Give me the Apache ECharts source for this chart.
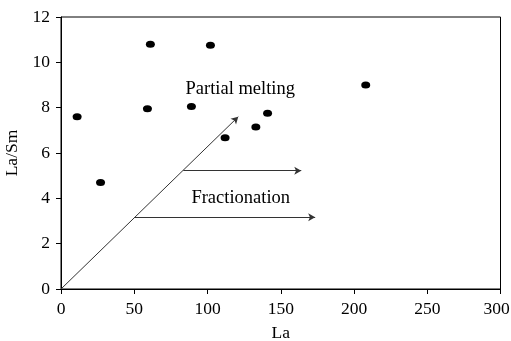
<!DOCTYPE html>
<html>
<head>
<meta charset="utf-8">
<script src="https://cdn.jsdelivr.net/npm/echarts@6/dist/echarts.min.js"></script>
<style>
  html, body { margin: 0; padding: 0; background: #fff; }
  #chart { width: 511px; height: 341px; }
</style>
</head>
<body>
<div id="chart"></div>
<script>
// Sample values: La (ppm) against La/Sm ratio
const laValues   = [11, 27, 61, 102, 59, 89, 112, 133, 141, 208];
const laSmValues = [7.6, 4.7, 10.8, 10.75, 7.95, 8.05, 6.67, 7.15, 7.75, 9.0];

// Axis ranges and tick spacing
const xRange = [0, 300], xStep = 50;
const yRange = [0, 12],  yStep = 2;

// Trend arrows in data coordinates: [start, end]
const meltingArrow = [[0, 0], [121, 7.6]];
const fractionationArrows = [
  [[83.5, 5.22], [164, 5.22]],
  [[50.2, 3.16], [173.5, 3.16]]
];

// Annotation texts and their anchor points (left edge, vertical middle)
const annotations = [
  { text: 'Partial melting', at: [85, 8.8] },
  { text: 'Fractionation',   at: [89, 4.0] }
];

const serif = '"Liberation Serif", "Times New Roman", serif';
const tickFont = 17.5;
const noteFont = 18.5;

const arrowLines = [meltingArrow].concat(fractionationArrows).map(seg => [
  { coord: seg[0] }, { coord: seg[1] }
]);

const chart = echarts.init(document.getElementById('chart'), null, { renderer: 'canvas' });
chart.setOption({
  animation: false,
  backgroundColor: '#fff',
  grid: {
    left: 61, right: 10.5, top: 17, bottom: 52,
    containLabel: false,
    outerBoundsMode: 'none',
    show: true, borderColor: '#000', borderWidth: 1
  },
  xAxis: {
    type: 'value', min: xRange[0], max: xRange[1], interval: xStep,
    name: 'La', nameLocation: 'middle', nameGap: 35,
    nameTextStyle: { fontFamily: serif, fontSize: tickFont, color: '#000' },
    axisLine: { lineStyle: { color: '#000', width: 1 } },
    axisTick: { show: true, inside: false, length: 5, lineStyle: { color: '#000' } },
    axisLabel: {
      fontFamily: serif, fontSize: tickFont, color: '#000', margin: 11,
      // keep the last label inside the canvas edge
      formatter: v => (v === xRange[1] ? '{end|' + v + '}' : String(v)),
      rich: { end: { fontFamily: serif, fontSize: tickFont, color: '#000', padding: [0, 8, 0, 0] } }
    },
    splitLine: { show: false }
  },
  yAxis: {
    type: 'value', min: yRange[0], max: yRange[1], interval: yStep,
    name: 'La/Sm', nameLocation: 'middle', nameGap: 40, nameRotate: 90,
    nameTextStyle: { fontFamily: serif, fontSize: tickFont, color: '#000' },
    axisLine: { show: true, lineStyle: { color: '#000', width: 1 } },
    axisTick: { show: true, inside: false, length: 5, lineStyle: { color: '#000' } },
    axisLabel: { fontFamily: serif, fontSize: tickFont, color: '#000', margin: 11 },
    splitLine: { show: false }
  },
  series: [
    {
      type: 'scatter',
      data: laValues.map((v, i) => [v, laSmValues[i]]),
      symbol: 'circle',
      symbolSize: [9, 7],
      itemStyle: { color: '#000', opacity: 1 },
      z: 5,
      markLine: {
        silent: true,
        symbol: ['none', 'arrow'],
        symbolSize: [6, 7],
        label: { show: false },
        lineStyle: { color: '#333', width: 1, type: 'solid', opacity: 1 },
        data: arrowLines
      }
    },
    {
      type: 'scatter',
      data: annotations.map(a => ({ value: a.at, name: a.text })),
      symbolSize: 0,
      silent: true,
      itemStyle: { opacity: 1 },
      label: {
        show: true,
        position: 'right',
        distance: 0,
        formatter: p => p.name,
        fontFamily: serif,
        fontSize: noteFont,
        color: '#000',
        opacity: 1
      }
    }
  ]
});
</script>
</body>
</html>
